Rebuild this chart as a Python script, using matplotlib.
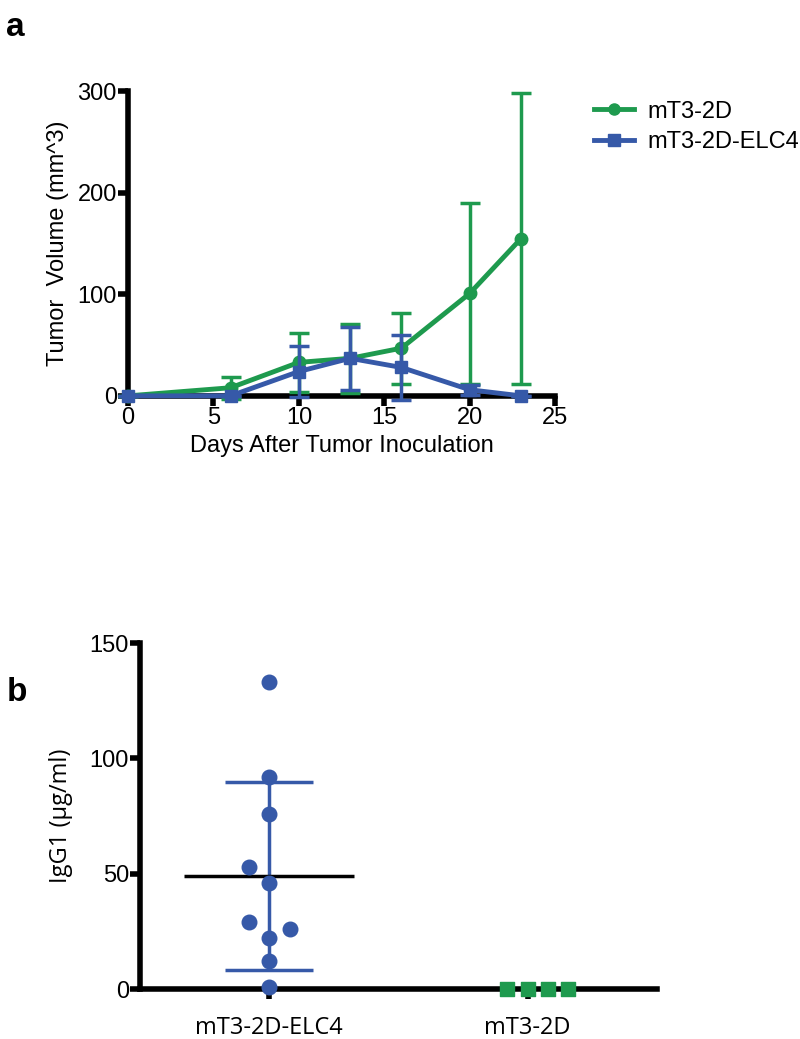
import numpy as np
import matplotlib
matplotlib.use('Agg')
import matplotlib.pyplot as plt
from matplotlib.lines import Line2D

plt.rcParams['font.family'] = ['Liberation Sans', 'DejaVu Sans']

green = '#1e9a4e'
blue = '#3659a8'

# Panel a: tumour growth
days = [0, 6, 10, 13, 16, 20, 23]
vol_2d = [0, 8, 33, 37, 47, 101, 155]
sd_2d = [0, 11, 29, 34, 35, 89, 143]
vol_elc4 = [0, 0, 24, 37, 28, 6, 0]
sd_elc4 = [0, 0, 25, 31, 32, 5, 0]

# Panel b: serum IgG1
cats = ['mT3-2D-ELC4', 'mT3-2D']
igg_elc4 = [133, 92, 76, 53, 46, 29, 26, 22, 12, 1]
off_elc4 = [0, 0, 0, -0.08, 0, -0.08, 0.08, 0, 0, 0]
igg_2d = [0, 0, 0, 0]
off_2d = [-0.08, 0.0, 0.08, 0.155]

fig = plt.figure(figsize=(8, 10.39), dpi=100)

# ---- panel a ----
ax = fig.add_axes([0.16, 0.619, 0.534, 0.293])
ax.errorbar(days, vol_2d, yerr=sd_2d, color=green, lw=3.5, marker='o', ms=9,
            capsize=7, capthick=2.5, elinewidth=2.5, clip_on=False, zorder=3)
ax.errorbar(days, vol_elc4, yerr=sd_elc4, color=blue, lw=3.5, marker='s', ms=9,
            capsize=7, capthick=2.5, elinewidth=2.5, clip_on=False, zorder=4)
ax.set_xlim(0, 25)
ax.set_ylim(0, 300)
ax.set_xticks([0, 5, 10, 15, 20, 25])
ax.set_yticks([0, 100, 200, 300])
for s in ['top', 'right']:
    ax.spines[s].set_visible(False)
for s in ['left', 'bottom']:
    ax.spines[s].set_linewidth(4)
ax.tick_params(width=4, length=7, labelsize=17, pad=1)
ax.set_xlabel('Days After Tumor Inoculation', fontsize=17, labelpad=4)
ax.set_ylabel('Tumor  Volume (mm^3)', fontsize=17, labelpad=6)
handles = [Line2D([], [], color=green, lw=3.5, marker='o', ms=8),
           Line2D([], [], color=blue, lw=3.5, marker='s', ms=8)]
ax.legend(handles, ['mT3-2D', 'mT3-2D-ELC4'], loc='upper left', bbox_to_anchor=(1.04, 1.04),
          frameon=False, fontsize=17, handlelength=1.7, handletextpad=0.6, labelspacing=0.35)
fig.text(0.008, 0.965, 'a', fontsize=24, fontweight='bold')

# ---- panel b ----
bx = fig.add_axes([0.175, 0.048, 0.646, 0.333])
x1 = 0 + np.array(off_elc4)
x2 = 1 + np.array(off_2d)
bx.scatter(x1, igg_elc4, s=110, color=blue, zorder=3, clip_on=False)
bx.scatter(x2, igg_2d, s=110, color=green, marker='s', zorder=3, clip_on=False)
m = np.mean(igg_elc4)
sd = np.std(igg_elc4, ddof=1)
bx.vlines(0, m - sd, m + sd, color=blue, lw=2.5, zorder=2)
bx.hlines([m - sd, m + sd], -0.17, 0.17, color=blue, lw=2.5, zorder=2)
bx.hlines(m, -0.33, 0.33, color='black', lw=2.5, zorder=2)
bx.set_xlim(-0.5, 1.5)
bx.set_ylim(0, 150)
bx.set_xticks([0, 1])
bx.set_xticklabels(cats, fontsize=21, family=['Open Sans', 'DejaVu Sans'])
bx.set_yticks([0, 50, 100, 150])
for s in ['top', 'right']:
    bx.spines[s].set_visible(False)
for s in ['left', 'bottom']:
    bx.spines[s].set_linewidth(4)
bx.tick_params(width=4, length=7, labelsize=17, pad=1)
bx.tick_params(axis='x', pad=12)
bx.set_ylabel('IgG1 (µg/ml)', fontsize=17, labelpad=12, family=['Open Sans', 'DejaVu Sans'])
fig.text(0.008, 0.325, 'b', fontsize=24, fontweight='bold')

fig.savefig('out.png', dpi=100)
